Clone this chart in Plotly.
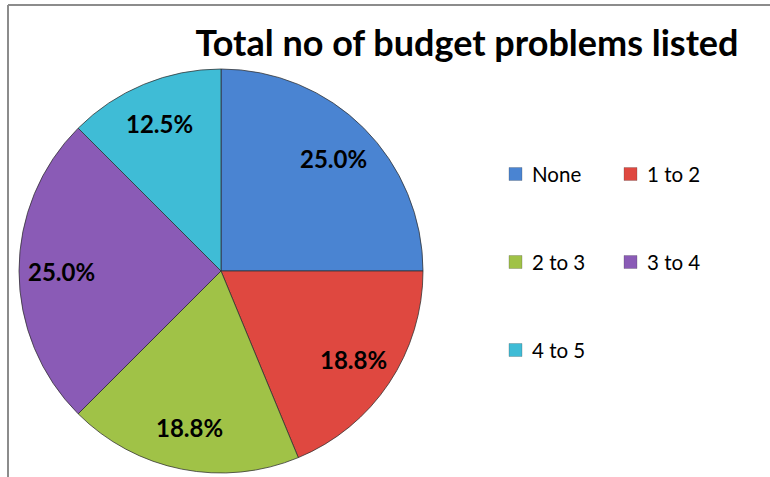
import math
import plotly.graph_objects as go

# Survey answers: how many budget problems each respondent listed
categories = ["None", "1 to 2", "2 to 3", "3 to 4", "4 to 5"]
counts = [4, 3, 3, 4, 2]
colors = ["#4a84d2", "#df4840", "#a0c247", "#8a5bb6", "#3fbcd6"]

W, H = 770, 477
pie_x = [19 / W, 423 / W]
pie_y = [(H - 473) / H, (H - 69) / H]

fig = go.Figure(
    go.Pie(
        labels=categories,
        values=counts,
        sort=False,
        direction="clockwise",
        rotation=0,
        marker=dict(colors=colors, line=dict(color="rgba(45,45,45,0.75)", width=1)),
        textinfo="none",
        domain=dict(x=pie_x, y=pie_y),
        showlegend=False,
        hoverinfo="label+percent",
    )
)

# Percentage labels placed at a fixed fraction of the radius, mid-slice
total = sum(counts)
cx_px = (pie_x[0] + pie_x[1]) / 2 * W
cy_px = H - (pie_y[0] + pie_y[1]) / 2 * H
radius_px = (pie_x[1] - pie_x[0]) * W / 2
label_r = 0.79 * radius_px
annotations = []
start = 0.0
for v in counts:
    frac = v / total
    mid = (start + frac / 2) * 2 * math.pi  # clockwise from 12 o'clock
    start += frac
    lx = cx_px + label_r * math.sin(mid)
    ly = cy_px - label_r * math.cos(mid)
    annotations.append(dict(
        x=lx / W, y=1 - ly / H, xref="paper", yref="paper",
        text=f"{frac * 100:.1f}%", showarrow=False,
        xanchor="center", yanchor="middle",
        font=dict(family="Lato", size=24, color="#000000", weight="bold"),
    ))

# Hand-drawn two-column legend
legend_x = [509, 624]
legend_y = [174, 262, 350]
shapes = []
for i, (name, col) in enumerate(zip(categories, colors)):
    lx = legend_x[i % 2]
    ly = legend_y[i // 2]
    shapes.append(dict(
        type="rect", xref="paper", yref="paper",
        x0=lx / W, x1=(lx + 13) / W, y0=1 - (ly + 6.5) / H, y1=1 - (ly - 6.5) / H,
        fillcolor=col, line=dict(color="rgba(60,60,60,0.5)", width=0.5),
    ))
    annotations.append(dict(
        x=(lx + 21) / W, y=1 - ly / H, xref="paper", yref="paper",
        text=name, showarrow=False, xanchor="left", yanchor="middle",
        font=dict(family="Lato", size=20.5, color="#000000"),
    ))

# Chart-area frame (top and left edges visible)
shapes.append(dict(type="line", xref="paper", yref="paper",
                   x0=8 / W, x1=1.01, y0=1 - 5 / H, y1=1 - 5 / H,
                   line=dict(color="#8c8c8c", width=2)))
shapes.append(dict(type="line", xref="paper", yref="paper",
                   x0=8 / W, x1=8 / W, y0=-0.01, y1=1 - 5 / H,
                   line=dict(color="#8c8c8c", width=2)))

fig.update_layout(
    width=W, height=H,
    margin=dict(l=0, r=0, t=0, b=0),
    paper_bgcolor="#ffffff",
    plot_bgcolor="#ffffff",
    title=dict(
        text="Total no of budget problems listed",
        x=467 / W, y=1 - 43 / H, xanchor="center", yanchor="middle",
        font=dict(family="Lato", size=36, color="#000000", weight="bold"),
    ),
    shapes=shapes,
    annotations=annotations,
)

fig.write_html("out.html")
